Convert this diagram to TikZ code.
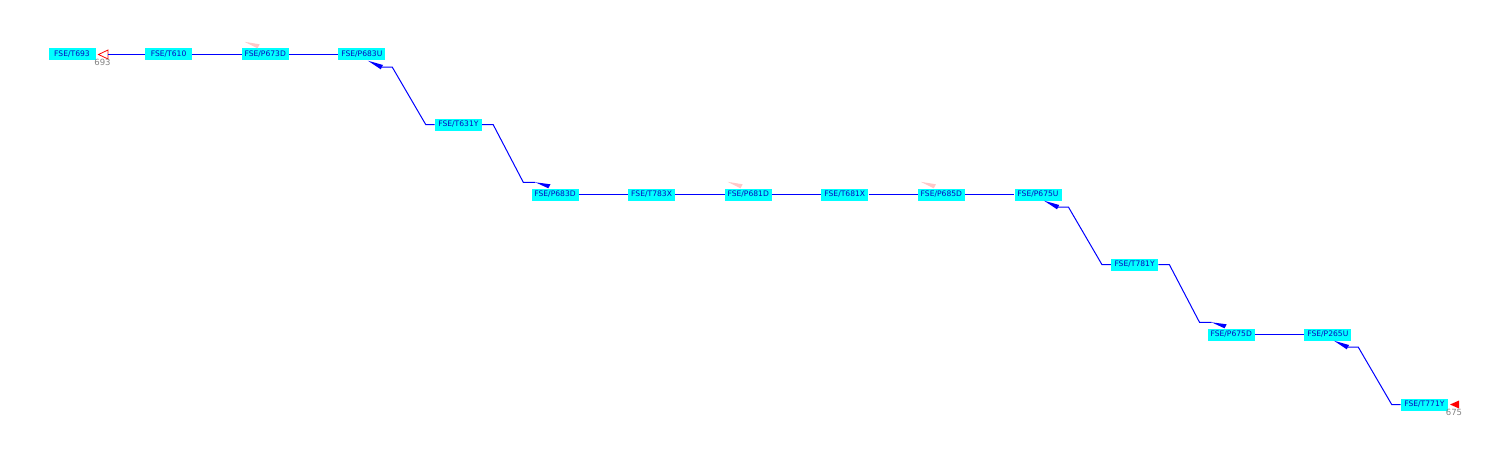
\documentclass[tikz,border=0pt]{standalone}
\usepackage{fontspec}
\setmainfont{DejaVu Sans}
\usetikzlibrary{calc}
\definecolor{boxcyan}{RGB}{0,255,255}
\definecolor{textblue}{RGB}{10,10,190}
\definecolor{lineblue}{RGB}{0,0,255}
\definecolor{wedgepink}{RGB}{255,200,200}
\definecolor{labelgray}{RGB}{130,130,130}
\tikzset{
  box/.style={fill=boxcyan, text=textblue, font=\fontsize{7.6}{8}\selectfont, minimum width=47pt, minimum height=12pt, inner sep=0pt},
  conn/.style={draw=lineblue, line width=1pt},
  endlabel/.style={text=labelgray, font=\fontsize{8.5}{9}\selectfont, inner sep=0pt}
}
\begin{document}
\begin{tikzpicture}[x=1pt,y=-1pt]
\useasboundingbox (0,0) rectangle (1500,460);
% nodes
\node[box] (t693)  at (72,54.5)     {FSE/T693};
\node[box] (t610)  at (168.6,54.5)  {FSE/T610};
\node[box] (p673d) at (265.2,54.5)  {FSE/P673D};
\node[box] (p683u) at (361.8,54.5)  {FSE/P683U};
\node[box] (t631y) at (458.4,124.5) {FSE/T631Y};
\node[box] (p683d) at (555,194.5)   {FSE/P683D};
\node[box] (t783x) at (651.6,194.5) {FSE/T783X};
\node[box] (p681d) at (748.2,194.5) {FSE/P681D};
\node[box] (t681x) at (844.8,194.5) {FSE/T681X};
\node[box] (p685d) at (941.4,194.5) {FSE/P685D};
\node[box] (p675u) at (1038,194.5)  {FSE/P675U};
\node[box] (t781y) at (1134.6,264.5) {FSE/T781Y};
\node[box] (p675d) at (1231.2,334.5) {FSE/P675D};
\node[box] (p265u) at (1327.8,334.5) {FSE/P265U};
\node[box] (t771y) at (1424.4,404.5) {FSE/T771Y};
% end markers
\coordinate (startend) at (108,54.5);
\draw[red, line width=0.8pt, fill=white] (startend) ++(0,-4.5) -- (98.5,54.5) -- (108,59) -- cycle;
\node[endlabel] (lab693) at (102.5,62.5) {693};
\fill[red] (1450,404.5) -- (1459,400.5) -- (1459,408.5) -- cycle;
\node[endlabel] (lab675) at (1454,412.5) {675};
% horizontal connectors
\draw[conn] (t610.west) -- (startend);
\draw[conn] (t610.east) -- (p673d.west);
\draw[conn] (p673d.east) -- (p683u.west);
\draw[conn] (p683d.east) -- (t783x.west);
\draw[conn] (t783x.east) -- (p681d.west);
\draw[conn] (p681d.east) -- (t681x.west);
\draw[conn] (t681x.east) -- (p685d.west);
\draw[conn] (p685d.east) -- (p675u.west);
\draw[conn] (p675d.east) -- (p265u.west);
% exit down connectors (U nodes)
\draw[conn] ($(p683u.south)+(20,6.5)$) -- ++(10.5,0) -- ($(t631y.west)+(-9,0)$) -- (t631y.west);
\fill[lineblue] ($(p683u.south)+(6,0)$) -- ($(p683u.south)+(21.2,4.3)$) -- ($(p683u.south)+(19,8.6)$) -- cycle;
\draw[conn] ($(p675u.south)+(20,6.5)$) -- ++(10.5,0) -- ($(t781y.west)+(-9,0)$) -- (t781y.west);
\fill[lineblue] ($(p675u.south)+(6,0)$) -- ($(p675u.south)+(21.2,4.3)$) -- ($(p675u.south)+(19,8.6)$) -- cycle;
\draw[conn] ($(p265u.south)+(20,6.5)$) -- ++(10.5,0) -- ($(t771y.west)+(-9,0)$) -- (t771y.west);
\fill[lineblue] ($(p265u.south)+(6,0)$) -- ($(p265u.south)+(21.2,4.3)$) -- ($(p265u.south)+(19,8.6)$) -- cycle;
% entry down connectors (D nodes)
\draw[conn] (t631y.east) -- ++(11,0) -- ($(p683d.north west)+(-8,-6)$) -- ($(p683d.north west)+(4,-6)$);
\fill[lineblue] ($(p683d.north west)+(4,-6)$) -- ($(p683d.north west)+(19.2,-4)$) -- ($(p683d.north west)+(17,0)$) -- cycle;
\draw[conn] (t781y.east) -- ++(11,0) -- ($(p675d.north west)+(-8,-6)$) -- ($(p675d.north west)+(4,-6)$);
\fill[lineblue] ($(p675d.north west)+(4,-6)$) -- ($(p675d.north west)+(19.2,-4)$) -- ($(p675d.north west)+(17,0)$) -- cycle;
% pink wedges
\fill[wedgepink] ($(p673d.north west)+(3,-6.5)$) -- ($(p673d.north west)+(18.2,-4)$) -- ($(p673d.north west)+(16,0)$) -- cycle;
\fill[wedgepink] ($(p681d.north west)+(3,-6.5)$) -- ($(p681d.north west)+(18.2,-4)$) -- ($(p681d.north west)+(16,0)$) -- cycle;
\fill[wedgepink] ($(p685d.north west)+(3,-6.5)$) -- ($(p685d.north west)+(18.2,-4)$) -- ($(p685d.north west)+(16,0)$) -- cycle;
\end{tikzpicture}
\end{document}
